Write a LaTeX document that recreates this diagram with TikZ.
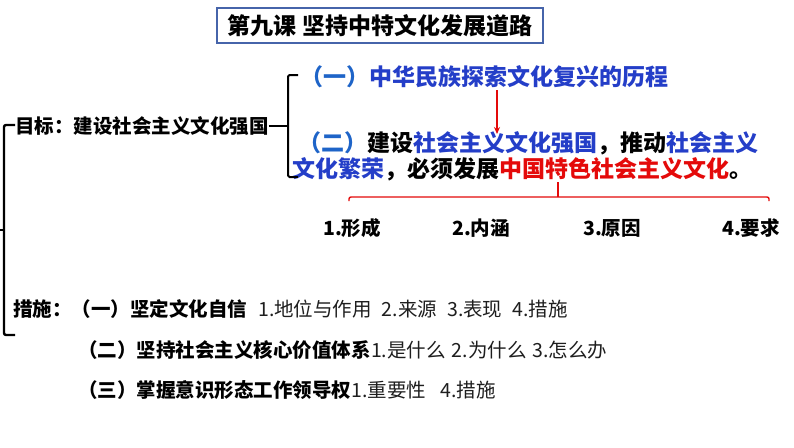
\documentclass[tikz,border=0pt]{standalone}
\usepackage{fontspec}
\setmainfont{Noto Sans CJK SC}
\usetikzlibrary{arrows.meta}
\definecolor{mblue}{RGB}{36,62,200}
\definecolor{pblue}{RGB}{30,100,200}
\definecolor{mred}{RGB}{228,10,10}
\definecolor{tborder}{RGB}{70,100,170}
\definecolor{dgray}{RGB}{30,30,30}
\newcommand\myfs[1]{\fontsize{#1}{#1}\selectfont}
\begin{document}
\begin{tikzpicture}[x=1pt,y=-1pt,
  txt/.style={inner sep=0pt,anchor=west},
  big/.style={txt,font=\myfs{23}\bfseries},
  mid/.style={txt,font=\myfs{19.5}\bfseries},
  reg/.style={txt,font=\myfs{19.5},text=dgray},
  blk/.style={line width=2pt,draw=black,rounded corners=1.5pt},
  redl/.style={line width=1.4pt,draw=mred,rounded corners=2pt}]
\useasboundingbox (0,0) rectangle (794,447);
\fill[white] (0,0) rectangle (794,447);
% title
\node[draw=tborder,line width=1.2pt,minimum width=326pt,minimum height=35pt,inner sep=0pt,font=\myfs{23}\bfseries] (title) at (380,25.5) {第九课 坚持中特文化发展道路};
% goal
\node[mid] (goal) at (15,126) {目标：建设社会主义文化强国};
% line 1
\node[big] (l1) at (300,77) {\textcolor{pblue}{（一）}\textcolor{mblue}{中华民族探索文化复兴的历程}};
% line 2
\node[big] (l2) at (298,143) {\textcolor{pblue}{（二）}建设\textcolor{mblue}{社会主义文化强国}，推动\textcolor{mblue}{社会主义}};
\node[big] (l3) at (292,169) {\textcolor{mblue}{文化繁荣}，必须发展\textcolor{mred}{中国特色社会主义文化}。};
% red arrow
\coordinate (aS) at (497,90);
\coordinate (aE) at (497,134);
\draw[mred,line width=1.2pt,-{Stealth[length=7pt,width=6pt]}] (aS) -- (aE);
% black bracket
\coordinate (bT) at (298,75);
\coordinate (bB) at (298,177);
\draw[blk] (bT) -- (288,75) -- (288,177) -- (bB);
\draw[blk] (goal.east) -- (288,126);
% left bracket
\coordinate (gT) at (15,125);
\coordinate (gB) at (15,335);
\draw[line width=2.4pt,rounded corners=2pt] (gT) -- (4,125) -- (4,335) -- (gB);
\draw[line width=2.2pt] (4,230) -- (0,230);
% red brace
\coordinate (rL) at (349,201);
\coordinate (rR) at (769,201);
\coordinate (rM) at (558,182);
\draw[redl] (rL) -- (349,197) -- (769,197) -- (rR);
\draw[mred,line width=1.4pt] (558,197) -- (rM);
% numbered items
\node[mid] (n1) at (323,228) {1.形成};
\node[mid] (n2) at (452,228) {2.内涵};
\node[mid] (n3) at (583,228) {3.原因};
\node[mid] (n4) at (722,228) {4.要求};
% measures
\node[mid] (m1) at (13,309) {措施：（一）坚定文化自信};
\node[reg] (m1r) at (258,309) {1.地位与作用\hspace{10pt}2.来源\hspace{10pt}3.表现\hspace{10pt}4.措施};
\node[mid] (m2) at (78,350) {（二）坚持社会主义核心价值体系};
\node[reg] (m2r) at (m2.east) {1.是什么\hspace{6pt}2.为什么\hspace{6pt}3.怎么办};
\node[mid] (m3) at (78,390) {（三）掌握意识形态工作领导权};
\node[reg] (m3r) at (m3.east) {1.重要性\hspace{14pt}4.措施};
\end{tikzpicture}
\end{document}
